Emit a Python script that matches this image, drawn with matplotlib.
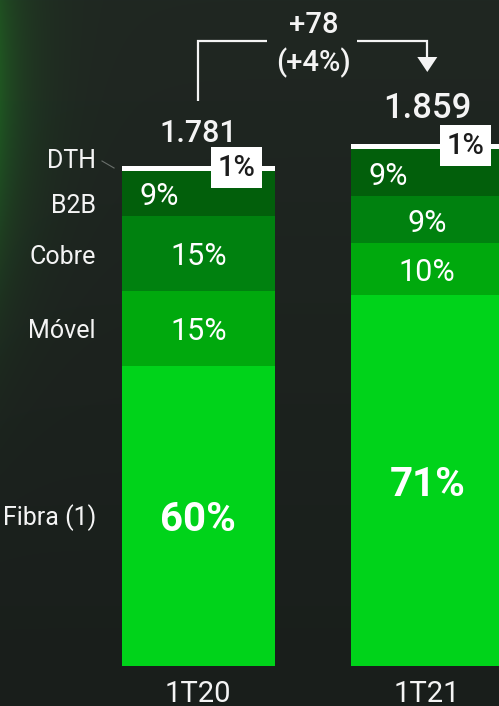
import numpy as np
import matplotlib
matplotlib.use("Agg")
import matplotlib.pyplot as plt
from matplotlib.patches import Polygon

# ---------------- data ----------------
periods = ["1T20", "1T21"]
totals = [1781, 1859]
segments = ["Fibra (1)", "Móvel", "Cobre", "B2B", "DTH"]
fibra = [60, 71]
movel = [15, 10]
cobre = [15, 9]
b2b = [9, 9]
dth = [1, 1]
delta_label = "+78"
delta_pct_label = "(+4%)"
total_labels = ["1.781", "1.859"]

# ---------------- style ----------------
plt.rcParams["font.family"] = ["Roboto", "DejaVu Sans"]

seg_colors = ["#00d31a", "#00a90d", "#00810f", "#025f0b", "#ffffff"]
WHITE = "#f4f4f4"
MED = 500

W, H, DPI = 499, 706, 100
fig = plt.figure(figsize=(W / DPI, H / DPI), dpi=DPI)

# background with soft green glow at top-left
bg = fig.add_axes([0, 0, 1, 1])
yy, xx = np.mgrid[0:H, 0:W]
base_top = np.array([0x20, 0x27, 0x22]) / 255
base_bot = np.array([0x19, 0x1e, 0x1b]) / 255
t = (yy / H)[..., None]
img = base_top * (1 - t) + base_bot * t
green = np.array([0x1f, 0x55, 0x22]) / 255
glow = (np.exp(-xx / 28.0) * np.exp(-((yy - 80) / 200.0) ** 2))[..., None]
img = img * (1 - glow) + green * glow
bg.imshow(img, extent=[0, W, H, 0], aspect="auto")
bg.set_xlim(0, W)
bg.set_ylim(H, 0)
bg.axis("off")

# main axes: bottom of bars at 666 px from top
bar_bottom_px = 666
ax = fig.add_axes([0, (H - bar_bottom_px) / H, 1, bar_bottom_px / H])
ax.patch.set_alpha(0)
px_per_unit = 500 / totals[0]
ax.set_ylim(0, bar_bottom_px / px_per_unit)
spacing_px = 229
c0_px = 198.3
ax.set_xlim(-c0_px / spacing_px, (W - c0_px) / spacing_px)
bw = 152.5 / spacing_px
for s in ax.spines.values():
    s.set_visible(False)
ax.set_yticks([])
x = np.arange(len(periods))
ax.set_xticks(x)
ax.set_xticklabels(periods, color=WHITE, fontsize=21)
ax.tick_params(axis="x", length=0, pad=10)


def cap_units(fs):
    """half of cap height in data units for font size fs"""
    return 0.711 * fs * DPI / 72 / 2 / px_per_unit


def ctext(xv, yc, s, fs, **kw):
    """place text with its cap-height centred on yc"""
    return ax.text(xv, yc - cap_units(fs), s, va="baseline", fontsize=fs, **kw)


shares = [fibra, movel, cobre, b2b, dth]
bottoms = np.zeros(len(periods))
seg_bounds = []
for sh, col in zip(shares, seg_colors):
    h = np.array(totals) * np.array(sh) / 100.0
    ax.bar(x, h, bottom=bottoms, width=bw, color=col, linewidth=0)
    seg_bounds.append((bottoms.copy(), h.copy()))
    bottoms = bottoms + h


def pct(v):
    return f"{v}%"


for i in range(len(periods)):
    b, h = seg_bounds[0]
    ctext(x[i], b[i] + h[i] / 2 - 1 / px_per_unit, pct(fibra[i]), 29,
          ha="center", color="white", fontweight="bold")
    for k, vals in ((1, movel), (2, cobre)):
        b, h = seg_bounds[k]
        ctext(x[i], b[i] + h[i] / 2 - 1 / px_per_unit, pct(vals[i]), 22,
              ha="center", color="white")
    b, h = seg_bounds[3]
    ctext(x[i] - bw / 2 + 17 / spacing_px, b[i] + h[i] / 2 - 1 / px_per_unit,
          pct(b2b[i]), 22, ha="left", color="white")
    b, h = seg_bounds[4]
    ax.text(x[i] + bw / 2 - 38 / spacing_px, b[i] + h[i] / 2 + 1 / px_per_unit,
            pct(dth[i]), ha="center", va="center", color="#1c1c1c",
            fontsize=21, fontweight=MED,
            bbox=dict(boxstyle="square,pad=0.22", fc="white", ec="none"))

# total labels
total_fs = [22, 25]
total_gap_px = [24, 26]
for i in range(len(periods)):
    ax.text(x[i], totals[i] + total_gap_px[i] / px_per_unit, total_labels[i],
            ha="center", va="baseline", color=WHITE, fontsize=total_fs[i],
            fontweight=MED)

# category labels for first bar
lab_x = -c0_px / spacing_px + 96 / spacing_px
cat_offsets_px = {"Fibra (1)": 0, "Móvel": -1, "Cobre": -2, "B2B": -11,
                  "DTH": 9}
for k, name in enumerate(segments):
    b, h = seg_bounds[k]
    yc = b[0] + h[0] / 2 + cat_offsets_px[name] / px_per_unit
    ctext(lab_x, yc, name, 18, ha="right", color=WHITE)
# leader line for DTH
b, h = seg_bounds[4]
ax.plot([lab_x + 6 / spacing_px, x[0] - bw / 2 - 8 / spacing_px],
        [b[0] + h[0] + 5 / px_per_unit, b[0] + h[0] - 2 / px_per_unit],
        color="#6a706c", lw=0.8)

# bracket arrow with delta
y_line = (bar_bottom_px - 41) / px_per_unit
y_start = totals[0] + 65 / px_per_unit
lw = 1.6
ax.plot([x[0], x[0], x[0] + 69 / spacing_px], [y_start, y_line, y_line],
        color=WHITE, lw=lw, solid_capstyle="butt", solid_joinstyle="miter")
arrow_base = y_line - 16 / px_per_unit
arrow_tip = y_line - 31 / px_per_unit
ax.plot([x[1] - 70 / spacing_px, x[1], x[1]], [y_line, y_line, arrow_base],
        color=WHITE, lw=lw, solid_capstyle="butt", solid_joinstyle="miter")
hw = 10 / spacing_px
ax.add_patch(Polygon([[x[1] - hw, arrow_base], [x[1] + hw, arrow_base],
                      [x[1], arrow_tip]], closed=True, fc=WHITE, ec="none"))
xm = (x[0] + x[1]) / 2 + 1 / spacing_px
ctext(xm, y_line + 18 / px_per_unit, delta_label, 21, ha="center",
      color=WHITE, fontweight=MED)
ctext(xm, y_line - 20 / px_per_unit, delta_pct_label, 21, ha="center",
      color=WHITE, fontweight=MED)

fig.savefig("out.png", dpi=DPI)
